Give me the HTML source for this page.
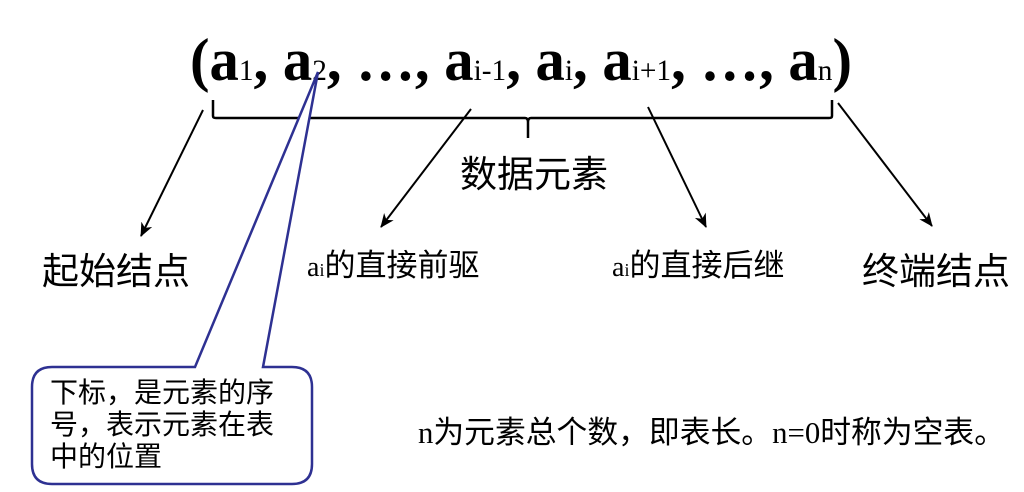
<!DOCTYPE html>
<html><head><meta charset="utf-8"><style>
html,body{margin:0;padding:0;background:#fff;width:1024px;height:492px;overflow:hidden}
svg{display:block}
.cj{font-family:"Liberation Sans","Noto Sans CJK SC",sans-serif;fill:#000}
.sr{font-family:"Liberation Serif",serif}
</style></head><body>
<svg width="1024" height="492" viewBox="0 0 1024 492">
<defs><marker id="ar" markerWidth="14" markerHeight="12" refX="13" refY="6" orient="auto" markerUnits="userSpaceOnUse"><path d="M0,0 L14,6 L0,12 L4,6 z" fill="#000"/></marker></defs>
<text x="190" y="80" class="sr" font-size="60" font-weight="bold" textLength="662" lengthAdjust="spacingAndGlyphs">(a<tspan font-weight="normal" font-size="30">1</tspan>, a<tspan font-weight="normal" font-size="30">2</tspan>, …, a<tspan font-weight="normal" font-size="30">i-1</tspan>, a<tspan font-weight="normal" font-size="30">i</tspan>, a<tspan font-weight="normal" font-size="30">i+1</tspan>, …, a<tspan font-weight="normal" font-size="30">n</tspan>)</text>
<path d="M213,100 V116 Q213,118 216,118 H525 Q528,118 528,122 V138 M528,122 Q528,118 531,118 H829 Q832,118 832,116 V100" fill="none" stroke="#000" stroke-width="2.5"/>
<g stroke="#000" stroke-width="2" marker-end="url(#ar)">
<line x1="203" y1="110" x2="141" y2="236"/>
<line x1="471" y1="109" x2="381" y2="227"/>
<line x1="648" y1="107" x2="706" y2="227"/>
<line x1="838" y1="103" x2="932" y2="226"/>
</g>
<text x="460" y="187" class="cj" font-size="37">数据元素</text>
<text x="42" y="284" class="cj" font-size="37">起始结点</text>
<text x="862" y="284" class="cj" font-size="37">终端结点</text>
<text x="307" y="276" class="cj" font-size="31"><tspan class="sr" font-size="28">a</tspan><tspan class="sr" font-size="18">i</tspan>的直接前驱</text>
<text x="612" y="276" class="cj" font-size="31"><tspan class="sr" font-size="28">a</tspan><tspan class="sr" font-size="18">i</tspan>的直接后继</text>
<text x="418" y="443" class="cj" font-size="31" textLength="587" lengthAdjust="spacingAndGlyphs"><tspan class="sr">n</tspan>为元素总个数，即表长。<tspan class="sr">n=0</tspan>时称为空表。</text>
<path d="M52,367 H195 L318,72 L263,367 H292 Q312,367 312,387 V464 Q312,484 292,484 H52 Q32,484 32,464 V387 Q32,367 52,367 Z" fill="#fff" stroke="#2e3192" stroke-width="2.5"/>
<text x="50" y="402" class="cj" font-size="28">下标，是元素的序</text>
<text x="50" y="434" class="cj" font-size="28">号，表示元素在表</text>
<text x="50" y="466" class="cj" font-size="28">中的位置</text>
</svg>
</body></html>
